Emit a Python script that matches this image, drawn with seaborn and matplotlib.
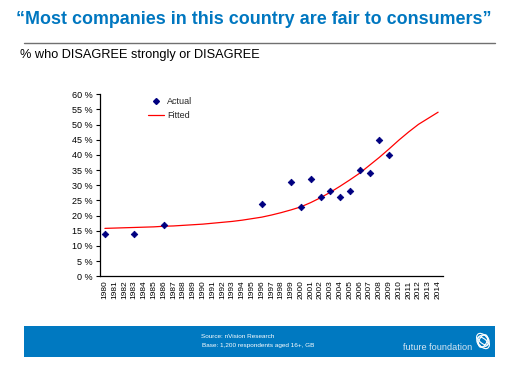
import pandas as pd
import matplotlib
matplotlib.use("Agg")
import matplotlib.pyplot as plt
import seaborn as sns
from matplotlib.patches import Rectangle, Ellipse
from matplotlib.lines import Line2D

# ---- data ----
years = list(range(1980, 2015))
actual_years = [1980, 1983, 1986, 1996, 1999, 2000, 2001, 2002, 2003, 2004, 2005, 2006, 2007, 2008, 2009]
actual_pct = [14, 14, 17, 24, 31, 23, 32, 26, 28, 26, 28, 35, 34, 45, 40]
fitted_pct = [15.8, 15.9, 16.0, 16.1, 16.2, 16.3, 16.5, 16.6, 16.8, 17.0,
              17.2, 17.5, 17.8, 18.1, 18.5, 19.0, 19.5, 20.2, 21.0, 21.9,
              22.9, 24.3, 25.9, 27.7, 29.7, 31.8, 34.0, 36.6, 39.2, 42.0,
              44.9, 47.6, 50.1, 52.1, 54.1]
y_ticks = list(range(0, 65, 5))

TITLE_BLUE = "#0077C0"
BAR_BLUE = "#0079C1"
NAVY = "#000080"

sns.set_theme(style="white")
plt.rcParams['font.family'] = ['Liberation Sans', 'DejaVu Sans']

actual_df = pd.DataFrame({"year": actual_years, "pct": actual_pct})
fitted_df = pd.DataFrame({"year": years, "pct": fitted_pct})

fig = plt.figure(figsize=(5.14, 3.70), dpi=100)
fig.patch.set_facecolor("white")

# ---- header ----
fig.text(0.494, 1 - 20 / 370, "\u201cMost companies in this country are fair to consumers\u201d",
         ha="center", va="center", fontsize=12.9, fontweight="bold", color=TITLE_BLUE)
fig.add_artist(Line2D([24 / 514, 495 / 514], [1 - 43 / 370, 1 - 43 / 370],
                      color="#707070", linewidth=1.0))
fig.text(20 / 514, 1 - 55 / 370, "% who DISAGREE strongly or DISAGREE",
         ha="left", va="center", fontsize=9.2, color="black")

# ---- chart ----
ax = fig.add_axes([100 / 514, 1 - 276.3 / 370, 343 / 514, (276.3 - 94.3) / 370])
sns.lineplot(data=fitted_df, x="year", y="pct", ax=ax, color="red", linewidth=0.9)
sns.scatterplot(data=actual_df, x="year", y="pct", ax=ax, marker="D", s=11,
                color=NAVY, edgecolor=NAVY, linewidth=0.6, zorder=3)

ax.set_xlim(1979.5, 2014.5)
ax.set_ylim(0, 60)
ax.set_xticks(years)
ax.set_xticklabels([str(y) for y in years], rotation=90, fontsize=6)
ax.set_yticks(y_ticks)
ax.set_yticklabels([f"{v} %" for v in y_ticks], fontsize=6.5)
ax.tick_params(axis="y", which="major", length=3, width=0.8, left=True, pad=2, colors="black")
ax.tick_params(axis="x", length=0, pad=3, colors="black")
ax.set_xlabel("")
ax.set_ylabel("")
for side in ["top", "right"]:
    ax.spines[side].set_visible(False)
for side in ["left", "bottom"]:
    ax.spines[side].set_color("black")
    ax.spines[side].set_linewidth(0.9)
ax.grid(False)

handles = [Line2D([], [], marker="D", linestyle="none", color=NAVY, markersize=3.0),
           Line2D([], [], color="red", linewidth=0.9)]
ax.legend(handles, ["Actual", "Fitted"], loc="upper left", bbox_to_anchor=(0.115, 1.03),
          frameon=False, fontsize=6.5, handlelength=1.8, handletextpad=0.4, labelspacing=0.6)

# ---- footer ----
fig.add_artist(Rectangle((24 / 514, 1 - 357 / 370), 471 / 514, 31 / 370,
                         transform=fig.transFigure, facecolor=BAR_BLUE, edgecolor="none"))
fig.text(201 / 514, 1 - 336 / 370, "Source: nVision Research", ha="left", va="center",
         fontsize=4.6, color="white")
fig.text(202 / 514, 1 - 346 / 370, "Base: 1,200 respondents aged 16+, GB", ha="left", va="center",
         fontsize=4.6, color="white")
fig.text(472 / 514, 1 - 348 / 370, "future foundation", ha="right", va="center",
         fontsize=6.6, color="#d6e6f3")
for w, h, ang in [(11, 16, 20), (8, 13, -15), (6, 10, 40), (12, 12, 0)]:
    fig.add_artist(Ellipse((483 / 514, 1 - 341 / 370), w / 514, h / 370, angle=ang,
                           transform=fig.transFigure, facecolor="none",
                           edgecolor="white", linewidth=0.8))

fig.savefig("out.png", dpi=100)
